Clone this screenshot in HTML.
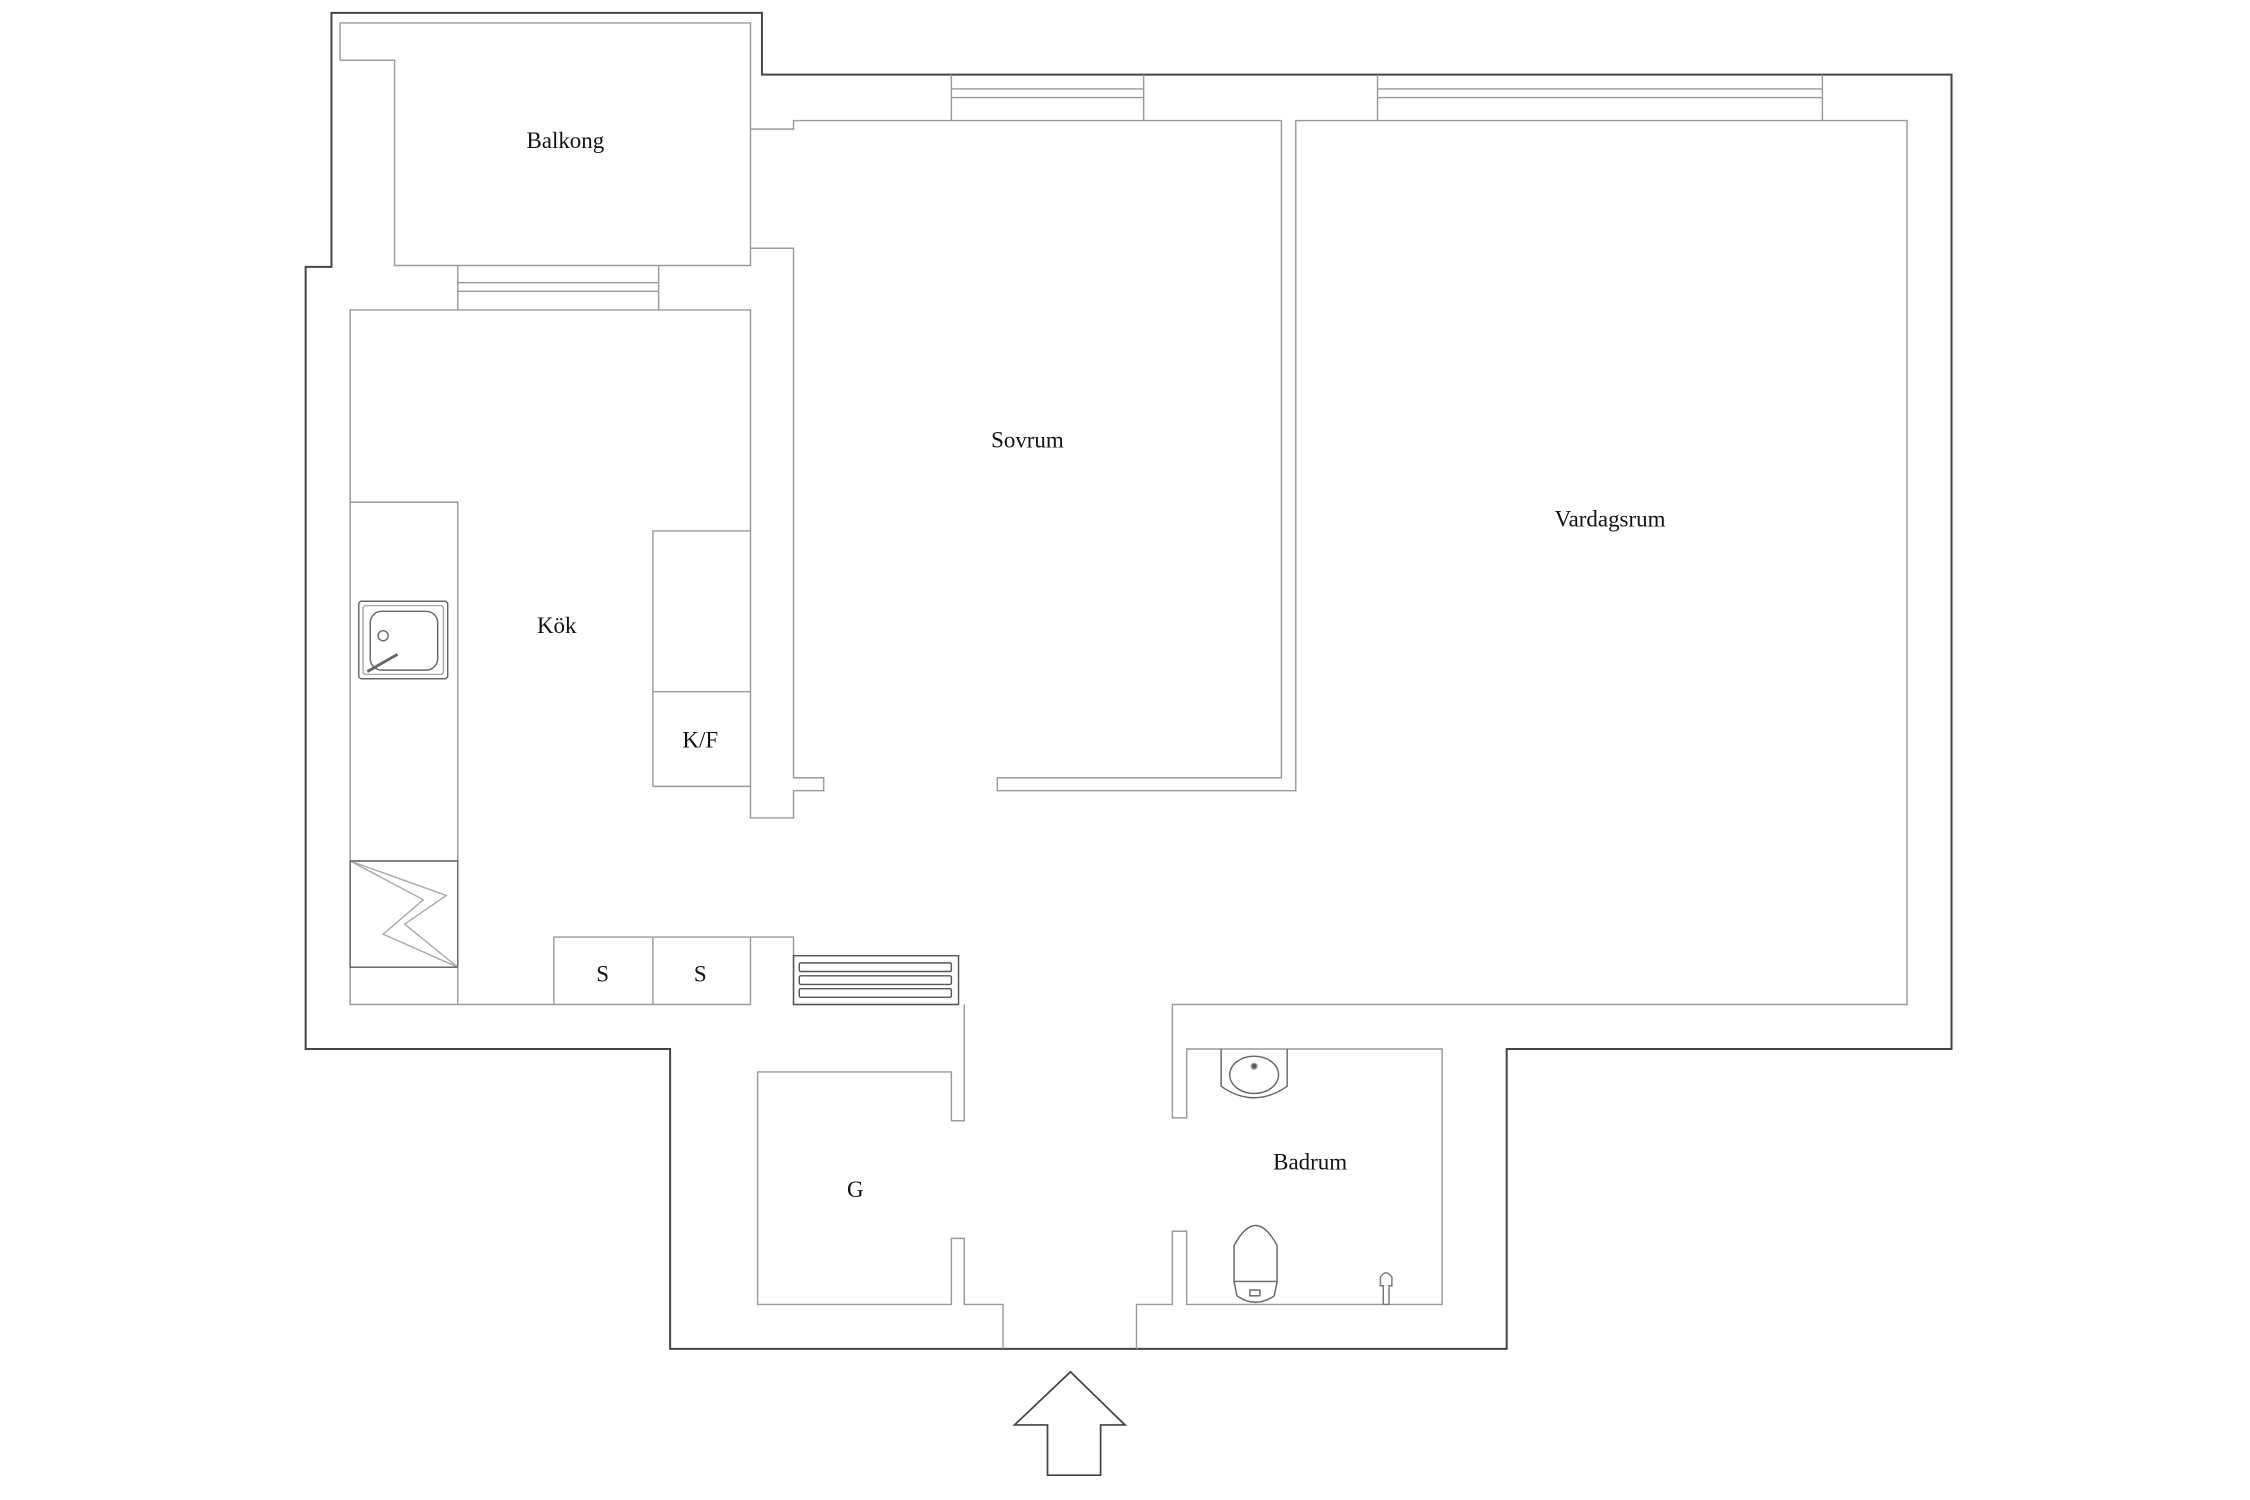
<!DOCTYPE html>
<html><head><meta charset="utf-8"><style>
html,body{margin:0;padding:0;background:#fff;}
svg{display:block}
text{font-family:"Liberation Serif",serif;font-size:16px;fill:#111;text-anchor:middle}
</style></head><body>
<svg width="2250" height="1500" viewBox="0 0 1568 1045.3" preserveAspectRatio="none" xmlns="http://www.w3.org/2000/svg">
<g fill="none" stroke="#444" stroke-width="1.4">
<path d="M231,186 L231,9 L531,9 L531,52 L1360,52 L1360,731 L1050,731 L1050,940 L467,940 L467,731 L213,731 L213,186 Z"/>
</g>
<g fill="none" stroke="#999" stroke-width="1">
<path d="M237,42 L237,16 L523,16 L523,185 L275,185 L275,42 L237,42"/>
<path d="M319,185 L319,216 M459,185 L459,216 M319,197 L459,197 M319,203 L459,203"/>
<path d="M663,52 L663,84 M797,52 L797,84 M663,62 L797,62 M663,68 L797,68"/>
<path d="M960,52 L960,84 M1270,52 L1270,84 M960,62 L1270,62 M960,68 L1270,68"/>
<path d="M523,90 L553,90 L553,84 L893,84 L893,542 L695,542 L695,551 L903,551 L903,84 L1329,84 L1329,700 L817,700 L817,779 L827,779 L827,731 L1005,731 L1005,909 L827,909 L827,858 L817,858 L817,909 L792,909 L792,940"/>
<path d="M523,173 L553,173 L553,542 L574,542 L574,551 L553,551 L553,570 L523,570 L523,216 L244,216 L244,700 L523,700 L523,653 L553,653 L553,700 L668,700"/>
<path d="M244,350 L319,350 L319,700 M244,600 L319,600 L319,674 L244,674"/>
<path d="M244,600 L295,627 L267,651 L319,674 L282,644 L311,624 Z" stroke="#aaa"/>
<rect x="244" y="600" width="75" height="74" stroke="#666"/>
<path d="M455,548 L455,370 L523,370 M455,482 L523,482 M455,548 L523,548"/>
<path d="M386,700 L386,653 L523,653 M455,653 L455,700"/>
<rect x="250" y="419" width="62" height="54" rx="2" stroke="#666"/>
<rect x="253" y="422" width="56" height="48" rx="2" stroke="#aaa"/>
<rect x="258" y="426" width="47" height="41" rx="8" stroke="#666"/>
<circle cx="267" cy="443" r="3.5" stroke="#666"/>
<path d="M256,468 L277,456" stroke="#666" stroke-width="2"/>
<rect x="553" y="666" width="115" height="34" stroke="#555"/>
<rect x="557" y="671" width="106" height="6" rx="1" stroke="#555"/>
<rect x="557" y="680" width="106" height="6" rx="1" stroke="#555"/>
<rect x="557" y="689" width="106" height="6" rx="1" stroke="#555"/>
<path d="M672,700 L672,781 L663,781 L663,747 L528,747 L528,909 L663,909 L663,863 L672,863 L672,909 L699,909 L699,940"/>
<path d="M851,731 L851,757 Q874,773 897,757 L897,731" stroke="#666"/>
<ellipse cx="874" cy="749" rx="17" ry="13" stroke="#666"/>
<circle cx="874" cy="743" r="2" fill="#555"/>
<path d="M860,893 L860,868 Q875,840 890,868 L890,893 Z" stroke="#666"/>
<path d="M860,893 L862,903 Q875,912 888,903 L890,893" stroke="#666"/>
<rect x="871" y="899" width="7" height="4" stroke="#666"/>
<path d="M962,896 L962,890 Q966,884 970,890 L970,896 L968,896 L968,909 L964,909 L964,896 Z" stroke="#777"/>
<path d="M707,993 L746,956 L784,993 L767,993 L767,1028 L730,1028 L730,993 Z" stroke="#444" stroke-width="1.2"/>
</g>
<text x="394" y="103">Balkong</text>
<text x="716" y="312">Sovrum</text>
<text x="1122" y="367">Vardagsrum</text>
<text x="388" y="441">Kök</text>
<text x="488" y="521">K/F</text>
<text x="420" y="684">S</text>
<text x="488" y="684">S</text>
<text x="596" y="834">G</text>
<text x="913" y="815">Badrum</text>
</svg>
</body></html>
